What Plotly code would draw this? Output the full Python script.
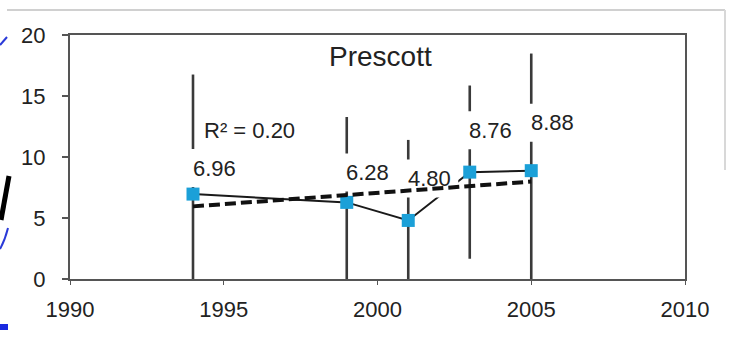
import numpy as np
import plotly.graph_objects as go

# ---------------- data ----------------
years = [1994, 1999, 2001, 2003, 2005]
values = [6.96, 6.28, 4.80, 8.76, 8.88]
errors = [9.8, 7.0, 6.6, 7.1, 9.6]
x_ticks = [1990, 1995, 2000, 2005, 2010]
y_ticks = [0, 5, 10, 15, 20]
chart_title = "Prescott"

# ---------------- styling / layout ----------------
label_lift_px = [26, 30, 42, 42, 48]   # label centre above its point, in px
label_shift_px = 21                    # label centre to the right of its point, px
W, H = 731, 339
ML, MR, MT, MB = 70, 46, 35, 60
PW, PH = W - ML - MR, H - MT - MB
X0, X1 = 1990, 2010
Y0, Y1 = 0, 20
ppx = PW / (X1 - X0)
ppy = PH / (Y1 - Y0)
TXT = "#222222"
AX = "#555555"
FONT = "Liberation Sans, Arial, sans-serif"


def paper(px, py):
    return (px - ML) / PW, (MT + PH - py) / PH


# linear trend + R^2
xa = np.array(years, dtype=float)
ya = np.array(values, dtype=float)
slope, intercept = np.polyfit(xa, ya, 1)
fit = slope * xa + intercept
r2 = 1 - np.sum((ya - fit) ** 2) / np.sum((ya - ya.mean()) ** 2)

fig = go.Figure()

# series with error bars
fig.add_trace(go.Scatter(
    x=years, y=values, mode="lines+markers",
    line=dict(color="#1a1a1a", width=2),
    marker=dict(symbol="square", size=13, color="#1ba0d8",
                line=dict(width=0)),
    error_y=dict(type="data", array=errors, symmetric=True,
                 color="#3a3a3a", thickness=2.6, width=0),
    showlegend=False, hoverinfo="skip",
))

# white label backgrounds (drawn above the series, below the trend line)
bx, by = [], []
for yr, v, lift in zip(years, values, label_lift_px):
    xl = yr - 8 / ppx
    xr = yr + 50 / ppx
    yc = v + lift / ppy
    hh = 19 / ppy
    bx += [xl, xr, xr, xl, xl, None]
    by += [yc - hh, yc - hh, yc + hh, yc + hh, yc - hh, None]
fig.add_trace(go.Scatter(
    x=bx, y=by, mode="lines", fill="toself", fillcolor="white",
    line=dict(width=0, color="white"), showlegend=False, hoverinfo="skip",
))

# trend line
fig.add_trace(go.Scatter(
    x=[years[0], years[-1]], y=[fit[0], fit[-1]], mode="lines",
    line=dict(color="#111111", width=4, dash="11px,5px"),
    showlegend=False, hoverinfo="skip",
))

annotations = []
for yr, v, lift in zip(years, values, label_lift_px):
    annotations.append(dict(
        x=yr, y=v, xref="x", yref="y", text=f"{v:.2f}", showarrow=False,
        xanchor="center", yanchor="middle", xshift=label_shift_px, yshift=lift,
        font=dict(family=FONT, size=22, color=TXT),
    ))
annotations.append(dict(
    x=years[0], y=12.2, xref="x", yref="y", text=f"R² = {r2:.2f}",
    showarrow=False, xanchor="left", yanchor="middle", xshift=9,
    font=dict(family=FONT, size=22, color=TXT),
))
tx, ty = paper(380, 56)
annotations.append(dict(
    x=tx, y=ty, xref="paper", yref="paper", text=chart_title, showarrow=False,
    xanchor="center", yanchor="middle",
    font=dict(family=FONT, size=28, color=TXT),
))

# page artefacts (frame of the surrounding page)
shapes = []
a = paper(7, 10); b = paper(725, 10)
shapes.append(dict(type="line", xref="paper", yref="paper", x0=a[0], y0=a[1],
                   x1=b[0], y1=b[1], line=dict(color="#d0d0d0", width=2)))
a = paper(725, 10); b = paper(725, 170)
shapes.append(dict(type="line", xref="paper", yref="paper", x0=a[0], y0=a[1],
                   x1=b[0], y1=b[1], line=dict(color="#d8d8d8", width=2)))
a = paper(9, 176); b = paper(1, 220)
shapes.append(dict(type="line", xref="paper", yref="paper", x0=a[0], y0=a[1],
                   x1=b[0], y1=b[1], line=dict(color="#000000", width=5)))
a = paper(0, 45); b = paper(7, 37)
shapes.append(dict(type="line", xref="paper", yref="paper", x0=a[0], y0=a[1],
                   x1=b[0], y1=b[1], line=dict(color="#2a3ad8", width=2)))
a = paper(8, 228); m = paper(5, 240); b = paper(0, 249)
shapes.append(dict(type="path", xref="paper", yref="paper",
                   path=f"M {a[0]} {a[1]} Q {m[0]} {m[1]} {b[0]} {b[1]}",
                   line=dict(color="#2a3ad8", width=2)))
a = paper(0, 327); b = paper(8, 327)
shapes.append(dict(type="line", xref="paper", yref="paper", x0=a[0], y0=a[1],
                   x1=b[0], y1=b[1], line=dict(color="#1a2ae0", width=6)))

fig.update_layout(
    width=W, height=H,
    margin=dict(l=ML, r=MR, t=MT, b=MB, pad=0),
    paper_bgcolor="white", plot_bgcolor="white",
    font=dict(family=FONT, color=TXT),
    annotations=annotations, shapes=shapes,
    xaxis=dict(range=[X0, X1], tickvals=x_ticks, ticktext=[str(t) for t in x_ticks],
               showgrid=False, zeroline=False, showline=True, mirror=True,
               linecolor=AX, linewidth=2, ticks="outside", ticklen=4,
               tickcolor=AX, tickwidth=1, ticklabelstandoff=6,
               tickfont=dict(family=FONT, size=22, color=TXT), fixedrange=True),
    yaxis=dict(range=[Y0, Y1], tickvals=y_ticks, ticktext=[str(t) for t in y_ticks],
               showgrid=False, zeroline=False, showline=True, mirror=True,
               linecolor=AX, linewidth=2, ticks="outside", ticklen=6,
               tickcolor=AX, tickwidth=2, ticklabelstandoff=12,
               tickfont=dict(family=FONT, size=22, color=TXT), fixedrange=True),
)

fig.write_html("out.html", config={"displayModeBar": False})
